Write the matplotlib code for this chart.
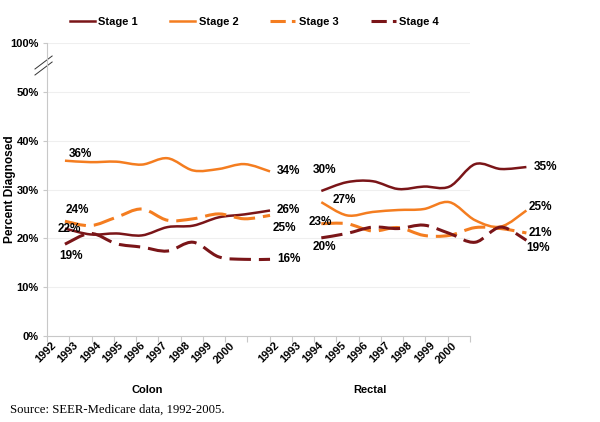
import matplotlib
matplotlib.use("Agg")
import matplotlib.pyplot as plt
from matplotlib.path import Path
from matplotlib.patches import PathPatch
from matplotlib.lines import Line2D
from matplotlib.transforms import ScaledTranslation
import numpy as np

plt.rcParams['font.family'] = ['Liberation Sans', 'DejaVu Sans']

years = ['1992', '1993', '1994', '1995', '1996', '1997', '1998', '1999', '2000']
groups = ['Colon', 'Rectal']
stages = ['Stage 1', 'Stage 2', 'Stage 3', 'Stage 4']

colon_s1 = [22.0, 20.8, 21.0, 20.6, 22.3, 22.6, 24.3, 24.9, 25.7]
colon_s2 = [35.9, 35.6, 35.7, 35.1, 36.4, 33.9, 34.2, 35.2, 33.7]
colon_s3 = [23.5, 22.6, 24.3, 26.0, 23.7, 24.0, 25.0, 24.0, 24.7]
colon_s4 = [18.8, 21.0, 18.9, 18.2, 17.4, 19.2, 16.2, 15.7, 15.7]

rectal_s1 = [29.7, 31.5, 31.7, 30.1, 30.6, 30.6, 35.2, 34.2, 34.6]
rectal_s2 = [27.4, 24.7, 25.4, 25.8, 26.0, 27.4, 23.7, 22.4, 25.7]
rectal_s3 = [23.0, 23.0, 21.5, 22.2, 20.6, 20.6, 22.2, 22.0, 21.1]
rectal_s4 = [20.1, 21.0, 22.3, 22.0, 22.7, 21.0, 19.2, 22.3, 19.6]

colon_labels = {'start': ['22%', '36%', '24%', '19%'], 'end': ['26%', '34%', '25%', '16%']}
rectal_labels = {'start': ['30%', '27%', '23%', '20%'], 'end': ['35%', '25%', '21%', '19%']}

ytick_vals = [0, 10, 20, 30, 40, 50, 60]
ytick_labels = ['0%', '10%', '20%', '30%', '40%', '50%', '100%']

DARK = '#7A1518'
ORANGE = '#F47D20'
colors = [DARK, ORANGE, ORANGE, DARK]
styles = ['solid', 'solid', 'dashed', 'dashed']
widths = [1.8, 1.8, 2.2, 2.2]

W, H = 600, 422
fig = plt.figure(figsize=(6.0, 4.22), dpi=100)
L, R, B, T = 47, 470, 336, 43
pos = [L / W, 1 - B / H, (R - L) / W, (B - T) / H]
ax = fig.add_axes(pos)
ax2 = fig.add_axes(pos, frameon=False)

# main (category) axis
ncat = 19
ax.set_xlim(-0.5, ncat - 0.5)
ax.set_ylim(0, 60)
cat_labels = years + [''] + years
ax.set_xticks(range(ncat))
ax.set_xticklabels(cat_labels, rotation=45, ha='right', rotation_mode='anchor',
                   fontsize=8, fontweight='bold')
ax.tick_params(axis='x', which='major', length=0, pad=3)
shift = ScaledTranslation(-7 / 100, 0, fig.dpi_scale_trans)
for lab in ax.get_xticklabels():
    lab.set_transform(lab.get_transform() + shift)
ax.set_xticks(np.arange(-0.5, ncat, 1), minor=True)
ax.tick_params(axis='x', which='minor', length=4, color='#c8c8c8', width=0.8)
ax.set_yticks(ytick_vals)
ax.set_yticklabels(ytick_labels, fontsize=8, fontweight='bold')
ax.tick_params(axis='y', length=3, color='#c8c8c8', width=0.8, pad=3)
ax.grid(axis='y', color='#efefef', linewidth=0.8)
ax.set_axisbelow(True)
for s in ['top', 'right']:
    ax.spines[s].set_visible(False)
for s in ['left', 'bottom']:
    ax.spines[s].set_color('#c8c8c8')
    ax.spines[s].set_linewidth(0.8)

fig.text(10 / W, 1 - 189 / H, 'Percent Diagnosed', rotation=90, ha='center', va='center',
         fontsize=8.6, fontweight='bold')

ax.text(4, -11.1, groups[0], ha='center', va='center', fontsize=8, fontweight='bold')
ax.text(14, -11.1, groups[1], ha='center', va='center', fontsize=8, fontweight='bold')

# break marks on the y axis
for dy in (0.0, 6.0):
    y0 = (336 - 75 + dy) / 293 * 60
    y1 = (336 - 62 + dy) / 293 * 60
    ax.plot([-1.04, -0.27], [y0, y1], color='#333333', lw=0.7, clip_on=False)

# data axis (secondary, offset like the original)
ax2.set_xlim(-0.70, 15.80)
ax2.set_ylim(0, 60)
ax2.set_xticks([])
ax2.set_yticks([])


def smooth_path(xs, ys):
    pts = np.column_stack([xs, ys]).astype(float)
    n = len(pts)
    verts = [pts[0]]
    codes = [Path.MOVETO]
    for i in range(n - 1):
        p0 = pts[i - 1] if i > 0 else pts[i]
        p1 = pts[i]
        p2 = pts[i + 1]
        p3 = pts[i + 2] if i + 2 < n else pts[i + 1]
        c1 = p1 + (p2 - p0) / 6.0
        c2 = p2 - (p3 - p1) / 6.0
        verts += [c1, c2, p2]
        codes += [Path.CURVE4] * 3
    return Path(verts, codes)


colon = [colon_s1, colon_s2, colon_s3, colon_s4]
rectal = [rectal_s1, rectal_s2, rectal_s3, rectal_s4]
xc = np.arange(len(years))
xr = np.arange(len(years)) + len(years) + 1

for series, xs in ((colon, xc), (rectal, xr)):
    for k, ys in enumerate(series):
        p = PathPatch(smooth_path(xs, ys), facecolor='none', edgecolor=colors[k],
                      lw=widths[k], linestyle=styles[k] if styles[k] == 'solid' else (0, (7, 2.6)),
                      clip_on=False, capstyle='butt')
        ax2.add_patch(p)

# data labels (offsets in pixels)
colon_start_off = [(4, 0), (15, 7), (12, 11), (6, -12)]
colon_end_off = [(7, 0), (7, 0), (3, -13), (7, 0)]
rectal_start_off = [(3, 21), (23, 2), (-1, 2), (3, -9)]
rectal_end_off = [(7, 0), (2, 3), (2, 0), (0, -8)]

lab_kw = dict(textcoords='offset pixels', fontsize=8.5, fontweight='bold', va='center',
              annotation_clip=False)
for k in range(4):
    ax2.annotate(colon_labels['start'][k], (xc[0], colon[k][0]), xytext=colon_start_off[k],
                 ha='center', **lab_kw)
    ax2.annotate(colon_labels['end'][k], (xc[-1], colon[k][-1]), xytext=colon_end_off[k],
                 ha='left', **lab_kw)
    ax2.annotate(rectal_labels['start'][k], (xr[0], rectal[k][0]), xytext=rectal_start_off[k],
                 ha='center', **lab_kw)
    ax2.annotate(rectal_labels['end'][k], (xr[-1], rectal[k][-1]), xytext=rectal_end_off[k],
                 ha='left', **lab_kw)

# legend
handles = [Line2D([], [], color=colors[k], lw=widths[k],
                  linestyle=styles[k] if styles[k] == 'solid' else (0, (5, 2.0)))
           for k in range(4)]
fig.legend(handles, stages, loc='center left', bbox_to_anchor=(70 / W, 1 - 22 / H),
           ncol=4, frameon=False, prop={'weight': 'bold', 'size': 8},
           handlelength=2.25, handletextpad=0.3, columnspacing=2.9, borderpad=0,
           borderaxespad=0)

fig.text(10 / W, 1 - 410 / H, 'Source: SEER-Medicare data, 1992-2005.',
         family='Liberation Serif', fontsize=9.2, va='center', ha='left')

fig.savefig('out.png', dpi=100)
